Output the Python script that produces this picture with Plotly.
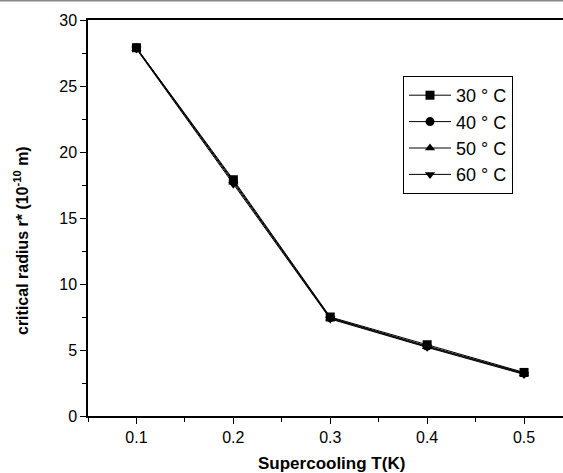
import plotly.graph_objects as go

x_vals = [0.1, 0.2, 0.3, 0.4, 0.5]
r_30 = [27.9, 17.9, 7.5, 5.4, 3.3]
r_40 = [27.9, 17.8, 7.45, 5.3, 3.25]
r_50 = [27.85, 17.7, 7.4, 5.25, 3.2]
r_60 = [27.8, 17.55, 7.35, 5.2, 3.15]
series_names = ["30 ° C", "40 ° C", "50 ° C", "60 ° C"]
symbols = ["square", "circle", "triangle-up", "triangle-down"]

fig = go.Figure()
for name, ys, sym in zip(series_names, [r_30, r_40, r_50, r_60], symbols):
    fig.add_trace(go.Scatter(
        x=x_vals, y=ys, name=name, mode="lines+markers",
        line=dict(color="black", width=1),
        marker=dict(symbol=sym, size=9, color="black"),
    ))

font_family = "Liberation Sans, Arial, sans-serif"

fig.update_layout(
    width=563, height=473,
    margin=dict(l=88, r=0, t=20, b=57),
    plot_bgcolor="white", paper_bgcolor="white",
    font=dict(family=font_family, color="black", size=16),
    showlegend=True,
    legend=dict(
        x=(403-88)/475, xanchor="left", xref="paper",
        y=1 - (76-20)/396, yanchor="top",
        bordercolor="black", borderwidth=1,
        font=dict(size=18, family=font_family),
        bgcolor="white",
        tracegroupgap=0,
        itemwidth=42,
    ),
    xaxis=dict(
        range=[0.05, 0.5402], tickvals=[0.1, 0.2, 0.3, 0.4, 0.5],
        ticktext=["0.1", "0.2", "0.3", "0.4", "0.5"],
        showline=True, linecolor="black", linewidth=1.5, mirror=True,
        ticks="outside", ticklen=6, tickcolor="black", tickwidth=1.2,
        minor=dict(tickvals=[0.05, 0.15, 0.25, 0.35, 0.45, 0.55], ticks="outside", ticklen=4, tickcolor="black", tickwidth=1.2),
        showgrid=False, zeroline=False,
        tickfont=dict(size=16),
    ),
    yaxis=dict(
        range=[0, 30], tickvals=[0, 5, 10, 15, 20, 25, 30],
        showline=True, linecolor="black", linewidth=1.5, mirror=False,
        ticks="outside", ticklen=6, tickcolor="black", tickwidth=1.2,
        minor=dict(tickvals=[2.5, 7.5, 12.5, 17.5, 22.5, 27.5], ticks="outside", ticklen=4, tickcolor="black", tickwidth=1.2),
        showgrid=False, zeroline=False,
        tickfont=dict(size=16),
    ),
)

fig.add_annotation(
    text="<b>Supercooling T(K)</b>", xref="paper", yref="paper",
    x=(331-88)/475, y=-(463-416)/396, xanchor="center", yanchor="middle",
    showarrow=False, font=dict(size=17, family=font_family),
)
fig.add_annotation(
    text="<b>critical radius r* (10<sup>-10</sup> m)</b>", xref="paper", yref="paper",
    x=(21-88)/475, y=(416-241)/396, xanchor="center", yanchor="middle",
    textangle=-90, showarrow=False, font=dict(size=16, family=font_family),
)
fig.add_shape(type="line", xref="paper", yref="paper",
              x0=-88/475, x1=1.0, y0=1 + 19.5/396, y1=1 + 19.5/396,
              line=dict(color="#888888", width=2))

fig.write_html("out.html")
